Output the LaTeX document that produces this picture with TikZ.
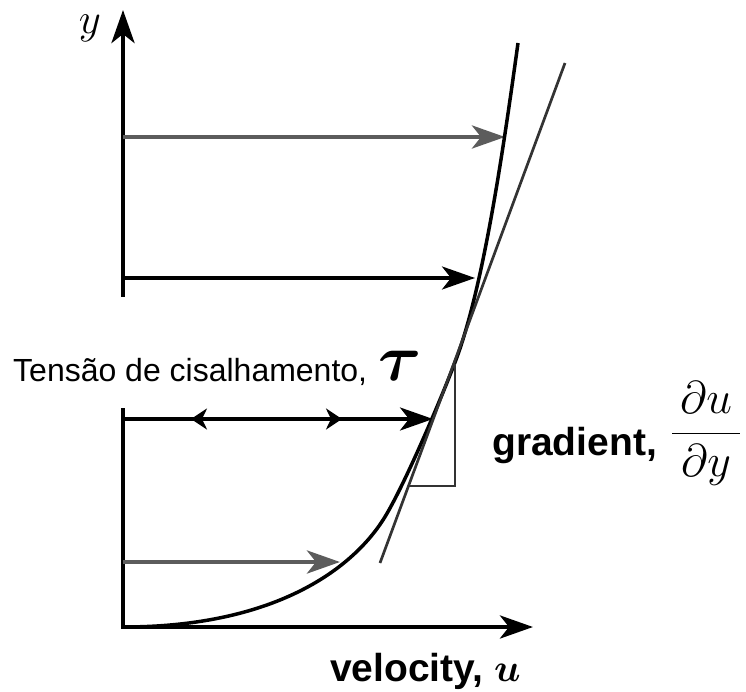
\RequirePackage{fix-cm}
\documentclass[tikz,border=0pt]{standalone}
\usepackage{amsmath,bm}
\usepackage[no-math]{fontspec}
\setmainfont{Liberation Sans}
\usetikzlibrary{arrows.meta}
\definecolor{arrgray}{gray}{0.36}
\definecolor{lngray}{gray}{0.2}
\begin{document}
\begin{tikzpicture}[x=1pt,y=-1pt,
  bigtip/.style={-{Stealth[length=33pt,width=23pt,inset=9pt]}},
  midtip/.style={-{Stealth[length=16pt,width=21pt,inset=5pt]}},
  axisline/.style={line width=4.5pt,line join=miter,bigtip},
  velarrow/.style={line width=3.5pt,bigtip},
  grayarrow/.style={velarrow,arrgray,line width=4.5pt},
  profile/.style={line width=3.5pt,black},
  thinline/.style={line width=2.7pt,lngray},
  txt/.style={inner sep=0pt}
]
\useasboundingbox (0,0) rectangle (746,692);
% coordinates
\coordinate (ytop) at (123,10);
\coordinate (ybrk) at (123,297);
\coordinate (ylow) at (123,408);
\coordinate (org) at (123,627);
\coordinate (xend) at (533,627);
% axes
\draw[axisline] (ybrk) -- (ytop);
\draw[axisline] (ylow) -- (org) -- (xend);
% velocity arrows
\coordinate (a1s) at (123,137); \coordinate (a1e) at (505,137);
\coordinate (a2s) at (123,278); \coordinate (a2e) at (475,278);
\coordinate (a3s) at (123,419); \coordinate (a3e) at (433,419);
\coordinate (a4s) at (123,562); \coordinate (a4e) at (340,562);
\draw[grayarrow] (a1s) -- (a1e);
\draw[velarrow] (a2s) -- (a2e);
\draw[velarrow] (a3s) -- (a3e);
\draw[grayarrow] (a4s) -- (a4e);
% mid heads on the shear arrow
\coordinate (m1a) at (230,419); \coordinate (m1b) at (191,419);
\coordinate (m2a) at (300,419); \coordinate (m2b) at (342,419);
\draw[midtip,line width=3.5pt] (m1a) -- (m1b);
\draw[midtip,line width=3.5pt] (m2a) -- (m2b);
% velocity profile
\coordinate (p0) at (123,627);
\coordinate (p1) at (383,520);
\coordinate (p2) at (457,357);
\coordinate (p3) at (518,43);
\draw[profile] (p0) .. controls (273,627) and (350.6,570.4) .. (p1)
  .. controls (404.6,486.4) and (446.7,385.2) .. (p2)
  .. controls (484.5,281.9) and (504.3,142) .. (p3);
% tangent line
\coordinate (tt) at (565,63);
\coordinate (tb) at (380,563);
\draw[thinline] (tt) -- (tb);
% gradient triangle
\coordinate (tr1) at (455,364);
\coordinate (tr2) at (455,486);
\coordinate (tr3) at (409,486);
\draw[thinline,line join=miter] (tr1) -- (tr2) -- (tr3);
% labels
\node[txt,anchor=base,font=\fontsize{43}{50}\selectfont] (ylab) at (90,34) {$y$};
\node[txt,anchor=base west,font=\fontsize{32}{38}\selectfont] (tensao) at (13,381) {Tensão de cisalhamento,};
\node[txt,anchor=base west,font=\fontsize{66}{74}\selectfont] (tau) at (378,380) {$\boldsymbol{\tau}$};
\node[txt,anchor=base west,font=\fontsize{39}{46}\selectfont\bfseries] (grad) at (492,455) {gradient,};
\node[txt,anchor=base,font=\fontsize{46}{54}\selectfont] (frac) at (706,445) {$\dfrac{\,\partial u\,}{\,\partial y\,}$};
\node[txt,anchor=base west,font=\fontsize{39}{46}\selectfont\bfseries] (vel) at (330,681) {velocity, $\boldsymbol{u}$};
\end{tikzpicture}
\end{document}
